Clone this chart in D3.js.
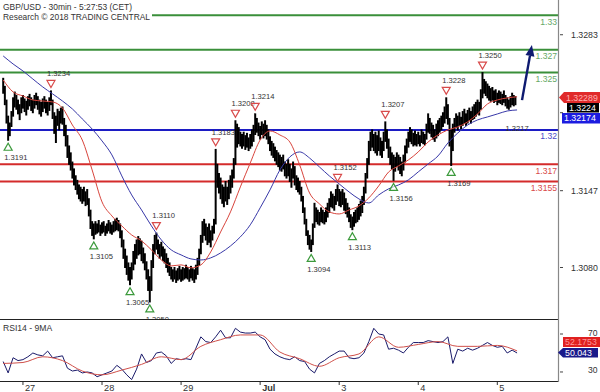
<!DOCTYPE html>
<html><head><meta charset="utf-8">
<script src="https://cdn.jsdelivr.net/npm/d3@7"></script>
<style>
body{margin:0;background:#fff;}
svg{display:block;font-family:"Liberation Sans",Arial,sans-serif;}
</style>
</head><body>
<svg id="c" width="600" height="392"></svg>
<script>
// ---------- DATA ----------
// 30-minute bars, values in pips above 1.3000
const barHigh = [
245,238,226,212,206,216,228,233,230,226,
222,228,230,227,225,229,231,228,226,230,
232,229,226,224,227,229,226,224,228,234,
226,215,212,218,216,219,220,210,204,195,
186,180,172,166,160,156,152,150,148,150,
146,148,140,130,120,118,120,118,121,117,
119,120,116,118,121,119,117,120,122,123,
121,118,112,104,96,90,84,80,84,94,
100,104,107,105,103,97,92,85,78,72,
86,100,108,110,104,100,102,98,96,92,
88,84,80,78,80,77,79,81,78,80,
79,82,80,78,81,79,78,82,88,96,
108,120,122,118,115,118,112,116,122,183,
170,162,158,152,150,155,150,156,160,165,
175,208,205,202,198,196,198,195,197,193,
196,200,204,214,210,206,203,207,205,208,
204,200,194,190,188,185,182,180,178,176,
178,172,170,174,170,166,172,168,160,158,
155,150,142,132,122,112,108,104,118,136,
132,130,128,132,130,128,132,136,140,146,
144,142,148,152,148,146,148,145,140,136,
132,126,124,128,130,132,135,138,142,150,
162,175,190,198,200,196,198,195,199,193,
190,198,207,200,192,185,180,178,176,180,
178,176,172,178,186,192,198,202,200,197,
199,196,198,195,200,198,196,205,214,210,
206,204,200,205,208,210,212,215,220,228,
222,210,200,205,210,214,212,215,211,216,
218,214,217,219,216,220,222,224,226,224,
235,250,244,242,240,238,236,237,234,235,
232,234,233,231,234,230,228,226,229,232,
230,229];
const barLow = [
232,222,206,191,195,203,212,220,218,214,
209,215,219,216,213,218,221,217,215,219,
222,218,214,212,216,219,215,213,217,222,
210,197,189,204,200,206,205,195,186,176,
170,165,158,152,148,144,140,138,136,138,
134,135,125,114,108,105,109,110,111,108,
110,111,108,110,112,110,109,111,112,113,
112,106,98,88,80,74,69,65,70,78,
83,88,91,92,86,84,78,70,60,50,
60,80,92,96,92,88,90,86,84,80,
76,73,70,68,70,67,69,70,68,69,
70,71,70,68,71,69,67,70,74,82,
92,102,108,104,100,102,98,104,110,118,
150,145,140,136,133,138,135,140,145,150,
158,170,185,188,186,184,186,183,185,182,
184,186,190,196,198,195,192,196,193,195,
192,188,182,178,176,173,170,168,165,164,
166,160,158,160,155,150,158,152,148,146,
144,138,128,118,108,100,96,94,100,115,
120,118,117,120,119,118,120,124,128,133,
132,130,135,138,134,133,135,130,127,124,
120,115,113,116,119,120,122,125,128,135,
145,158,170,182,185,182,180,178,182,178,
176,182,190,184,176,170,166,156,164,168,
165,162,160,165,172,180,185,190,188,186,
187,186,188,186,189,188,187,192,198,197,
194,192,190,193,195,198,200,203,206,210,
205,186,169,182,198,202,200,204,201,204,
206,204,206,208,206,209,210,212,214,213,
218,228,232,230,228,226,225,226,224,225,
222,224,223,222,224,221,219,218,220,222,
221,222];
// moving averages, one value every 6 bars (pips above 1.3000)
const maStep = 6;
const maFast = [243.5,233.1,229.6,226.1,225.2,224.4,219.1,204.3,191.2,165.1,
137.2,125,116.3,108.4,103.2,95.4,86.6,81.4,82.3,79.7,
82.3,93.6,111,128.5,150.3,171.2,191.2,199.1,195.6,189.5,
169.5,145,135.5,128.5,126.7,130.2,133.7,140.7,151.2,163.3,
168.6,173.8,180.8,189.5,195.6,200,202.6,207,213.9,222.6,
226.1,227.9,228.9];
const maSlow = [264.5,257.5,251.4,244.4,237.5,231.4,225.2,218.3,209.6,200.8,
190.4,178.2,159.9,143.3,130.2,116.3,104.1,95.4,91,87.5,
86.6,88.4,92.7,98.8,106.7,117.2,132,147.7,165.1,176.4,
180.8,175.5,167.7,159.9,152.9,145.9,139.8,136.3,143.3,148.6,
152,156.4,163.4,170.3,177.3,188.6,197.3,204.3,208.7,211.3,
213.9,216.5,217.4];
// RSI(14), one value every 3 bars
const rsiStep = 3;
const rsi = [41,29,45,42,43,46,50,48,47,52,45,46,47,34,31,32,29,30,29,25,
27,29,31,37,33,27,22,33,49,40,42,50,51,47,39,44,43,44,43,55,
67,62,61,67,74,66,66,76,72,71,71,72,67,64,54,49,46,44,43,46,
42,41,33,29,39,42,46,49,52,52,45,44,45,50,62,76,70,69,54,55,
53,50,56,61,61,61,63,62,61,62,67,39,54,52,55,53,55,58,61,58,
56,57,50,53,50];
// 9-period MA of RSI, one value every 12 bars
const rsiMaStep = 12;
const rsiMa = [39,40,46,42,31,27,32,38,46,43,57,64,69,69,51,44,36,45,49,67,56,59,62,57,57,58,52.2];

const dayLabels = ["27","28","29","Jul","3","4","5"];
const dayBars = [12,60,108,156,204,252,300];
const priceTicks = [1.3283,1.3215,1.3147,1.3080];
const priceTickShown = [true,false,true,true];   // 1.3215 is hidden under the value tags
const rsiTicks = [70,30];

const levelPrices = [1.33,1.327,1.325,1.32,1.317,1.3155];
const levelLabels = ["1.33","1.327","1.325","1.32","1.317","1.3155"];
const levelKinds  = ["res","res","res","pivot","sup","sup"];

// swing points: bar index, kind, price
const swingBars   = [3,29,55,77,89,93,129,141,153,187,203,212,232,237,269,272,291];
const swingKinds  = ["L","H","L","L","L","H","H","H","H","L","H","L","H","L","H","L","H"];
const swingPrices = [1.3191,1.3234,1.3105,1.3065,1.3050,1.3110,1.3183,1.3208,1.3214,1.3094,1.3152,1.3113,1.3207,1.3156,1.3228,1.3169,1.3250];

const noteBar = 305, notePrice = 1.3200, noteText = "1.3217";
const arrowFrom = [315, 1.3226], arrowTo = [321, 1.3274];
const lastClose = "1.3224", lastFast = "1.32289", lastSlow = "1.32174";
const lastRsi = "50.043", lastRsiMa = "52.1753";

// ---------- STYLE ----------
const W = 558, MAIN_B = 319, RSI_T = 319, RSI_B = 381;
const kindColor = {res:"#3a8f3a", pivot:"#1c1cc4", sup:"#d42b2b"};
const kindText  = {res:"#66a866", pivot:"#4b4bc8", sup:"#d84a4a"};

const svg = d3.select("#c");
const x = d3.scaleLinear().domain([-1.943, 336.85]).range([0, W]);
const y = d3.scaleLinear().domain([1.30351, 1.33133]).range([MAIN_B, 0]);
const yr = d3.scaleLinear().domain([20.5, 85.8]).range([RSI_B, RSI_T]);
const pip = v => 1.3 + v/10000;

const defs = svg.append("defs");
defs.append("clipPath").attr("id","cm").append("rect").attr("x",0).attr("y",0).attr("width",W).attr("height",MAIN_B);
defs.append("clipPath").attr("id","cr").append("rect").attr("x",0).attr("y",RSI_T).attr("width",W).attr("height",RSI_B-RSI_T);

const main = svg.append("g").attr("clip-path","url(#cm)");

// level lines
levelPrices.forEach((p,k)=>{
  main.append("line").attr("x1",0).attr("x2",W).attr("y1",y(p)).attr("y2",y(p))
    .attr("stroke",kindColor[levelKinds[k]]).attr("stroke-width",2);
});

// bars
main.append("g").selectAll("line").data(barHigh).join("line")
  .attr("x1",(d,i)=>x(i)).attr("x2",(d,i)=>x(i))
  .attr("y1",(d,i)=>y(pip(barLow[i]))+0.5).attr("y2",d=>y(pip(d))-0.5)
  .attr("stroke","#000").attr("stroke-width",2);

// moving averages
const lineMa = (arr, step) => d3.line().x((d,i)=>x(i*step)).y(d=>y(pip(d))).curve(d3.curveMonotoneX)(arr);
main.append("path").attr("d",lineMa(maSlow,maStep)).attr("fill","none").attr("stroke","#3838a8").attr("stroke-width",1);
main.append("path").attr("d",lineMa(maFast,maStep)).attr("fill","none").attr("stroke","#d8443c").attr("stroke-width",1);

// swing markers
swingBars.forEach((b,k)=>{
  const cx = x(b), p = swingPrices[k];
  if (swingKinds[k]==="H"){
    const cy = y(p)-7;
    main.append("path").attr("d",`M${cx-4},${cy-3.5}L${cx+4},${cy-3.5}L${cx},${cy+3.5}Z`)
      .attr("fill","#fff").attr("fill-opacity",0.6).attr("stroke","#d84a4a").attr("stroke-width",1.2);
    main.append("text").attr("x",cx-4).attr("y",cy-10.5).attr("dy","0.35em")
      .attr("font-size",7.6).attr("fill","#333").text(p.toFixed(4));
  } else {
    const cy = y(p)+6.5;
    main.append("path").attr("d",`M${cx-4},${cy+3.5}L${cx+4},${cy+3.5}L${cx},${cy-3.5}Z`)
      .attr("fill","#fff").attr("fill-opacity",0.6).attr("stroke","#3c9a3c").attr("stroke-width",1.2);
    main.append("text").attr("x",cx-4).attr("y",cy+11).attr("dy","0.35em")
      .attr("font-size",7.6).attr("fill","#333").text(p.toFixed(4));
  }
});
main.append("text").attr("x",x(noteBar)).attr("y",y(notePrice)-2).attr("dy","0.35em")
  .attr("font-size",7.6).attr("fill","#333").text(noteText);

// level labels
levelPrices.forEach((p,k)=>{
  main.append("text").attr("x",W-1).attr("y",y(p)+6.5).attr("dy","0.35em").attr("text-anchor","end")
    .attr("font-size",8.6).attr("fill",kindText[levelKinds[k]]).text(levelLabels[k]);
});

// forecast arrow
{
  const x1=x(arrowFrom[0]), y1=y(arrowFrom[1]), x2=x(arrowTo[0]), y2=y(arrowTo[1]);
  const ang = Math.atan2(y2-y1, x2-x1), L=11, Wd=4.5;
  const bx = x2 - L*Math.cos(ang), by = y2 - L*Math.sin(ang);
  main.append("line").attr("x1",x1).attr("y1",y1).attr("x2",bx).attr("y2",by)
    .attr("stroke","#0e1a70").attr("stroke-width",2.4);
  const px = -Math.sin(ang), py = Math.cos(ang);
  main.append("path").attr("d",`M${x2},${y2}L${bx+px*Wd},${by+py*Wd}L${bx-px*Wd},${by-py*Wd}Z`).attr("fill","#0e1a70");
}

// title (white background hides level line)
svg.append("rect").attr("x",0).attr("y",0).attr("width",152).attr("height",21).attr("fill","#fff");
svg.append("text").attr("x",3).attr("y",9.5).attr("font-size",9).attr("fill","#333")
  .attr("textLength",129).attr("lengthAdjust","spacingAndGlyphs").text("GBP/USD - 30min - 5:27:53 (CET)");
svg.append("text").attr("x",3).attr("y",19.5).attr("font-size",9).attr("fill","#333")
  .attr("textLength",147).attr("lengthAdjust","spacingAndGlyphs").text("Research © 2018 TRADING CENTRAL");

// RSI panel
const rg = svg.append("g").attr("clip-path","url(#cr)");
rg.append("path").attr("d",d3.line().x((d,i)=>x(i*rsiStep)).y(d=>yr(d))(rsi))
  .attr("fill","none").attr("stroke","#1a1a6a").attr("stroke-width",1);
rg.append("path").attr("d",d3.line().x((d,i)=>x(i*rsiMaStep)).y(d=>yr(d)).curve(d3.curveMonotoneX)(rsiMa))
  .attr("fill","none").attr("stroke","#d0504a").attr("stroke-width",1);
svg.append("text").attr("x",3).attr("y",327.5).attr("dy","0.35em").attr("font-size",8.6).attr("fill","#333").text("RSI14 - 9MA");

// frames
svg.append("line").attr("x1",0).attr("x2",W).attr("y1",MAIN_B+0.5).attr("y2",MAIN_B+0.5).attr("stroke","#222").attr("stroke-width",1);
svg.append("line").attr("x1",0).attr("x2",W).attr("y1",RSI_B+0.5).attr("y2",RSI_B+0.5).attr("stroke","#222").attr("stroke-width",1);
svg.append("line").attr("x1",W+0.5).attr("x2",W+0.5).attr("y1",0).attr("y2",RSI_B+1).attr("stroke","#888").attr("stroke-width",1.2);

// price axis
priceTicks.forEach((t,k)=>{
  svg.append("line").attr("x1",W+2).attr("x2",W+5).attr("y1",y(t)).attr("y2",y(t)).attr("stroke","#444");
  if (priceTickShown[k])
    svg.append("text").attr("x",571).attr("y",y(t)).attr("dy","0.35em").attr("font-size",8.8).attr("fill","#333").text(t.toFixed(4));
});
rsiTicks.forEach(t=>{
  svg.append("line").attr("x1",W+2).attr("x2",W+5).attr("y1",yr(t)).attr("y2",yr(t)).attr("stroke","#444");
  svg.append("text").attr("x",588).attr("y",yr(t)-1.5).attr("dy","0.35em").attr("font-size",8.6).attr("fill","#333").text(t);
});

// time axis
dayBars.forEach((b,k)=>{
  svg.append("line").attr("x1",x(b)).attr("x2",x(b)).attr("y1",RSI_B+1).attr("y2",RSI_B+4).attr("stroke","#333");
  svg.append("text").attr("x",x(b)+2).attr("y",390.5).attr("font-size",9.2).attr("fill","#333")
    .attr("font-weight",dayLabels[k]==="Jul"?"bold":"normal").text(dayLabels[k]);
});

// value tags
function tag(pts, fill, tx, ty, txt, tcol){
  svg.append("path").attr("d","M"+pts.map(p=>p.join(",")).join("L")+"Z").attr("fill",fill);
  svg.append("text").attr("x",tx).attr("y",ty).attr("dy","0.35em").attr("font-size",8.8).attr("fill",tcol).text(txt);
}
tag([[559,97.5],[564,92],[600,92],[600,103],[564,103]],"#e02a2a",566,97.5,lastFast,"#ffb0b0");
tag([[567,103],[599,103],[599,112.5],[567,112.5]],"#000",569,107.8,lastClose,"#fff");
tag([[562,113],[600,113],[600,123.5],[562,123.5]],"#1c1ce0",564,118.3,lastSlow,"#fff");
tag([[563,337],[600,337],[600,347],[563,347]],"#e02020",565,342,lastRsiMa,"#ff9a9a");
tag([[558,352.5],[563,348],[598,348],[598,357.5],[563,357.5]],"#1a1a8a",565,352.8,lastRsi,"#fff");
</script>
</body></html>
